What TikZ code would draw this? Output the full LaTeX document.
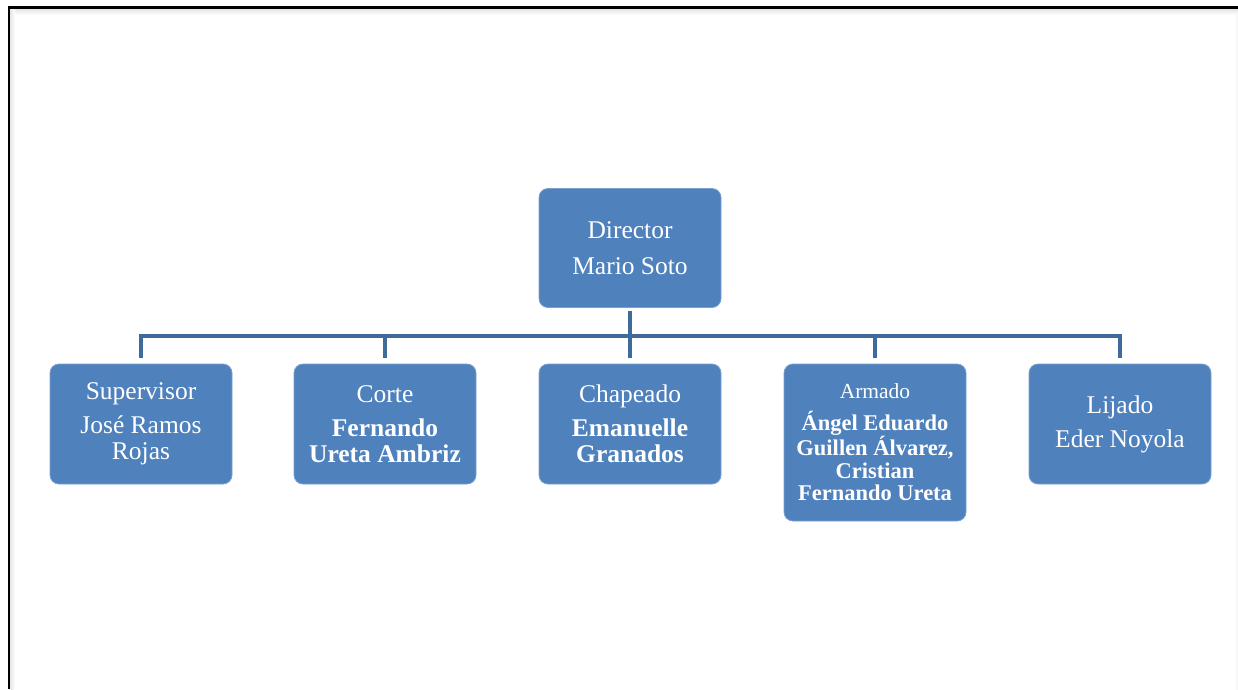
\documentclass[tikz,border=0pt]{standalone}
\usepackage{fontspec}
\setmainfont{Liberation Serif}
\definecolor{boxblue}{HTML}{4F81BD}
\definecolor{linkblue}{HTML}{3F6A9C}
\begin{document}
\begin{tikzpicture}[x=1pt,y=-1pt,
  unit/.style={rectangle, rounded corners=9pt, fill=boxblue,
    draw=boxblue!75!white, line width=0.8pt, text=white,
    minimum width=182pt, minimum height=120pt, align=center,
    inner sep=0pt, font=\fontsize{25.5}{26}\selectfont},
  link/.style={draw=linkblue, line width=4.5pt, line join=miter}]
  \useasboundingbox (0,0) rectangle (1238,689);
  \fill[white] (0,0) rectangle (1238,689);

  % page frame with a soft shadow
  \shade[top color=gray!22, bottom color=white] (10,8.5) rectangle (1238,15);
  \shade[left color=gray!18, right color=white] (10.5,8.5) rectangle (15,689);
  \shade[left color=white, right color=gray!8] (1234,14) rectangle (1238,689);
  \draw[line width=2.5pt] (9,689) -- (9,7.25) -- (1238,7.25);

  % org chart units
  \node[unit, minimum height=119pt] (director) at (630,248)
    {Director\\[10pt]Mario Soto};
  \node[unit] (sup) at (141,424)
    {Supervisor\\[8pt]José Ramos\\Rojas};
  \node[unit] (corte) at (385,424)
    {Corte\\[8pt]\textbf{Fernando}\\\textbf{Ureta Ambriz}};
  \node[unit] (chap) at (630,424)
    {Chapeado\\[8pt]\textbf{Emanuelle}\\\textbf{Granados}};
  \node[unit, minimum height=157pt, font=\fontsize{22.5}{22.5}\selectfont] (arm) at (875,442.5)
    {{\fontsize{21.5}{22}\selectfont Armado}\\[9pt]\textbf{Ángel Eduardo}\\\textbf{Guillen Álvarez,}\\\textbf{Cristian}\\\textbf{Fernando Ureta}};
  \node[unit] (lij) at (1120,424)
    {Lijado\\[8pt]Eder Noyola};

  % connectors
  \coordinate (bus) at (0,336);
  \draw[link] ([yshift=-3pt]director.south) -- (director.south |- bus);
  \draw[link] ([yshift=6pt]sup.north) -- (sup.north |- bus)
    -- (lij.north |- bus) -- ([yshift=6pt]lij.north);
  \draw[link] (corte.north |- bus) -- ([yshift=6pt]corte.north);
  \draw[link] (chap.north |- bus) -- ([yshift=6pt]chap.north);
  \draw[link] (arm.north |- bus) -- ([yshift=6pt]arm.north);
\end{tikzpicture}
\end{document}
